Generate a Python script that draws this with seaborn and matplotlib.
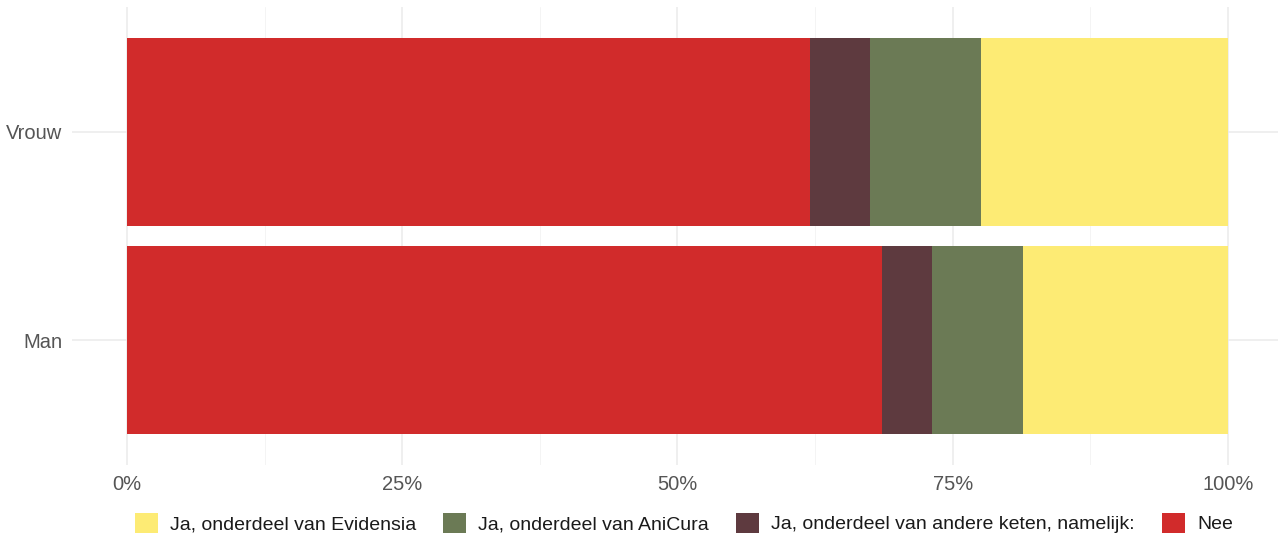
import pandas as pd
import numpy as np
import seaborn as sns
import matplotlib.pyplot as plt
from matplotlib.patches import Patch
from matplotlib.ticker import MultipleLocator, PercentFormatter

groups = ['Vrouw', 'Man']
answers = ['Nee', 'Ja, onderdeel van andere keten, namelijk:',
           'Ja, onderdeel van AniCura', 'Ja, onderdeel van Evidensia']
nee = [62.0, 68.6]
andere = [5.5, 4.5]
anicura = [10.1, 8.3]
evidensia = [22.4, 18.6]
colors = ['#D12B2B', '#5E3A3F', '#6B7A55', '#FDEB74']

sns.set_theme(style='white')
plt.rcParams['font.family'] = ['Liberation Sans', 'DejaVu Sans']

df = pd.DataFrame({'group': groups, answers[0]: nee, answers[1]: andere,
                   answers[2]: anicura, answers[3]: evidensia})
cum = df[answers].cumsum(axis=1) / 100

fig = plt.figure(figsize=(12.78, 5.41), dpi=100)
ax = fig.add_axes([72 / 1278, 76 / 541, 1211 / 1278, 458 / 541])

# draw from the full stack down so shorter bars sit on top
for ans, col in zip(reversed(answers), reversed(colors)):
    sns.barplot(x=cum[ans], y=df['group'], order=groups, color=col,
                width=0.9, orient='h', ax=ax, saturation=1, linewidth=0)

ax.set_xlim(-0.05, 1.05)
ax.set_ylim(1.6, -0.6)
ax.xaxis.set_major_locator(MultipleLocator(0.25))
ax.xaxis.set_minor_locator(MultipleLocator(0.125))
ax.xaxis.set_major_formatter(PercentFormatter(1.0, decimals=0))
ax.grid(True, which='major', color='#EBEBEB', linewidth=1.1)
ax.grid(True, which='minor', axis='x', color='#F2F2F2', linewidth=0.6)
ax.set_axisbelow(True)
for s in ax.spines.values():
    s.set_visible(False)
ax.tick_params(axis='both', which='both', length=0, labelsize=14.5,
               labelcolor='#555555', pad=7)
ax.set_xlabel('')
ax.set_ylabel('')

handles = [Patch(facecolor=c, edgecolor='none') for c in reversed(colors)]
fig.legend(handles, list(reversed(answers)), loc='center', ncol=4,
           bbox_to_anchor=(0.535, 1 - 523 / 541), frameon=False,
           fontsize=14, handlelength=1.2, handleheight=1.2,
           columnspacing=1.4, handletextpad=0.6, labelcolor='#1A1A1A')

fig.savefig('out.png', dpi=100)
